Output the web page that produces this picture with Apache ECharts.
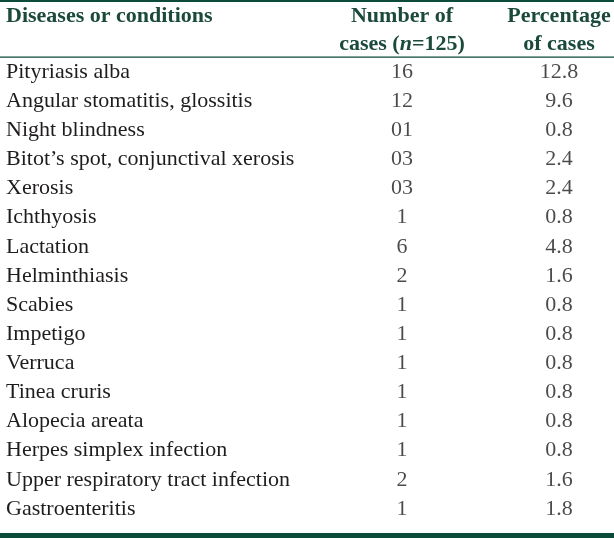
<!DOCTYPE html>
<html>
<head>
<meta charset="utf-8">
<script src="https://cdn.jsdelivr.net/npm/echarts@6/dist/echarts.min.js"></script>
<style>html,body{margin:0;padding:0;background:#fff;}#c{width:614px;height:538px;}</style>
</head>
<body>
<div id="c"></div>
<script>
var diseases = ['Pityriasis alba','Angular stomatitis, glossitis','Night blindness','Bitot\u2019s spot, conjunctival xerosis','Xerosis','Ichthyosis','Lactation','Helminthiasis','Scabies','Impetigo','Verruca','Tinea cruris','Alopecia areata','Herpes simplex infection','Upper respiratory tract infection','Gastroenteritis'];
var counts = ['16','12','01','03','03','1','6','2','1','1','1','1','1','1','2','1'];
var percentages = ['12.8','9.6','0.8','2.4','2.4','0.8','4.8','1.6','0.8','0.8','0.8','0.8','0.8','0.8','1.6','1.8'];
var columns = ['count','pct'];
var columnHeaders = ['{b|Number of}\n{b|cases (}{i|n}{b|=125)}','{b|Percentage}\n{b|of cases}'];
var firstHeader = 'Diseases or conditions';

var HEAD = '#1b4a3c', RULE = '#0c4a3a', BODY = '#1f1c1d', FONT = '"Liberation Serif", "Times New Roman", serif';
var chart = echarts.init(document.getElementById('c'), null, {renderer:'canvas'});
function cells(arr, col){ return arr.map(function(v,i){ return [col, i, v]; }); }
var lbl = {show:true, position:'inside', formatter:function(p){return p.value[2];}, color:BODY, fontFamily:FONT, fontSize:22};
chart.setOption({
  animation:false,
  grid:{left:323.5, width:314, top:57.5, bottom:14.5, outerBoundsMode:'none', containLabel:false},
  xAxis:{type:'category', data:columns, position:'top',
    axisLine:{show:false}, axisTick:{show:false}, splitLine:{show:false},
    axisLabel:{interval:0, margin:-1, formatter:function(v,i){return columnHeaders[i];},
      rich:{b:{fontFamily:FONT, fontWeight:'bold', fontSize:22, color:HEAD, lineHeight:28},
            i:{fontFamily:FONT, fontWeight:'bold', fontStyle:'italic', fontSize:22, color:HEAD, lineHeight:28}}}},
  yAxis:{type:'category', data:diseases, inverse:true,
    axisLine:{show:false}, axisTick:{show:false}, splitLine:{show:false},
    axisLabel:{interval:0, align:'left', margin:317.5, color:BODY, fontFamily:FONT, fontSize:22}},
  series:[
    {type:'scatter', symbolSize:0, data:cells(counts,'count'), label:lbl},
    {type:'scatter', symbolSize:0, data:cells(percentages,'pct'), label:lbl}
  ],
  graphic:[
    {type:'rect', left:0, top:0, shape:{width:614, height:2}, style:{fill:RULE}},
    {type:'text', left:6, top:5, style:{text:firstHeader, fill:HEAD, font:'bold 22px '+FONT}},
    {type:'rect', left:0, top:56.5, shape:{width:614, height:1.2}, style:{fill:RULE}},
    {type:'rect', left:0, top:533, shape:{width:614, height:5}, style:{fill:RULE}}
  ]
});
</script>
</body>
</html>
